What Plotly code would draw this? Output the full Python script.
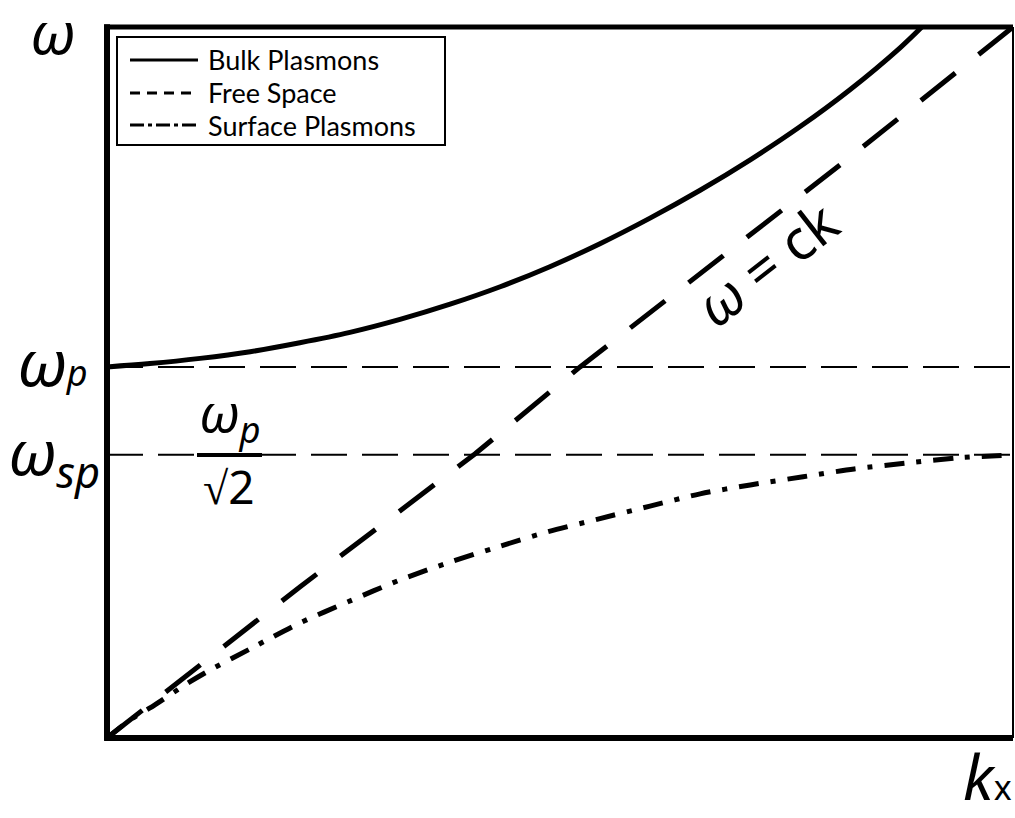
import plotly.graph_objects as go

# Dispersion curves: k in units of ω_p/c, ω in units of ω_p
k_bulk = [0.0, 0.091, 0.197, 0.303, 0.408, 0.514, 0.620, 0.726, 0.832, 0.937,
          1.043, 1.149, 1.255, 1.361, 1.466, 1.572, 1.678, 1.724]
w_bulk = [1.000, 1.009, 1.023, 1.041, 1.065, 1.093, 1.128, 1.169, 1.216, 1.270,
          1.332, 1.401, 1.476, 1.558, 1.647, 1.747, 1.860, 1.916]

# light line, drawn from the top corner down to the origin
k_light = [1.917, 1.557, 1.001, 0.779, 0.408, 0.0]
w_light = [1.916, 1.550, 1.000, 0.766, 0.407, 0.0]

k_surf = [0.0, 0.049, 0.091, 0.175, 0.218, 0.307, 0.408, 0.510, 0.620,
          0.726, 0.827, 0.931, 1.039, 1.149, 1.255, 1.361, 1.473, 1.581,
          1.693, 1.801, 1.917]
w_surf = [0.0, 0.049, 0.081, 0.151, 0.183, 0.243, 0.310, 0.367, 0.426,
          0.474, 0.515, 0.555, 0.590, 0.625, 0.658, 0.682, 0.704, 0.725,
          0.741, 0.755, 0.763]

omega_p = 1.0
omega_sp = 0.763
k_max = 1.917
w_max = 1.916

legend_names = ["Bulk Plasmons", "Free Space", "Surface Plasmons"]

# Canvas geometry (pixels)
W, H = 1015, 818
L, T, PW, PH = 107, 27, 906, 711


def paper(x, y):
    """Pixel position on the canvas -> paper coordinates."""
    return (x - L) / PW, (T + PH - y) / PH


LABEL_FONT = "Noto Sans"
LEGEND_FONT = "Lato"

fig = go.Figure()

fig.add_trace(go.Scatter(
    x=k_bulk, y=w_bulk, mode="lines", name=legend_names[0],
    line=dict(color="black", width=5, shape="spline", smoothing=1.0), showlegend=False))
fig.add_trace(go.Scatter(
    x=k_light, y=w_light, mode="lines", name=legend_names[1],
    line=dict(color="black", width=5, dash="44px,29.8px"), showlegend=False))
fig.add_trace(go.Scatter(
    x=k_surf, y=w_surf, mode="lines", name=legend_names[2],
    line=dict(color="black", width=5, dash="20px,12px,5px,12px", shape="spline",
              smoothing=0.8),
    showlegend=False))

shapes = []
# reference levels ω_p and ω_sp
for lvl in (omega_p, omega_sp):
    shapes.append(dict(type="line", xref="paper", yref="y", x0=0, x1=1, y0=lvl, y1=lvl,
                       line=dict(color="black", width=2, dash="36px,15px"), layer="below"))

# frame
shapes += [
    dict(type="line", xref="paper", yref="paper", x0=0, x1=0, y0=-0.004, y1=1.004,
         line=dict(color="black", width=6)),
    dict(type="line", xref="paper", yref="paper", x0=-0.003, x1=1, y0=0, y1=0,
         line=dict(color="black", width=6)),
    dict(type="line", xref="paper", yref="paper", x0=-0.003, x1=1, y0=1, y1=1,
         line=dict(color="black", width=5)),
    dict(type="line", xref="paper", yref="paper", x0=1, x1=1, y0=0, y1=1,
         line=dict(color="black", width=2)),
]

# fraction bar of ω_p/√2
fx0, fy = paper(197, 455)
fx1, _ = paper(262, 455)
shapes.append(dict(type="line", xref="paper", yref="paper", x0=fx0, x1=fx1, y0=fy, y1=fy,
                   line=dict(color="black", width=4)))

# legend box and samples
bx0, by1 = paper(117, 37)
bx1, by0 = paper(445, 145)
shapes.append(dict(type="rect", xref="paper", yref="paper", x0=bx0, x1=bx1, y0=by0, y1=by1,
                   line=dict(color="black", width=2), fillcolor="white"))
legend_dash = ["solid", "10px,7px", "14px,4px,4px,4px"]
row_y = [60, 93, 125]
annotations = []
for name, dash, ry in zip(legend_names, legend_dash, row_y):
    sx0, sy = paper(130, ry)
    sx1, _ = paper(198, ry)
    shapes.append(dict(type="line", xref="paper", yref="paper", x0=sx0, x1=sx1, y0=sy, y1=sy,
                       line=dict(color="black", width=3, dash=dash)))
    tx, ty = paper(206, ry)
    annotations.append(dict(x=tx, y=ty, xref="paper", yref="paper", text=name,
                            showarrow=False, xanchor="left", yanchor="middle",
                            font=dict(family=LEGEND_FONT, size=27, color="black")))


def label(text, x, y, size, xanchor="center", yanchor="middle", angle=0):
    px_, py_ = paper(x, y)
    annotations.append(dict(x=px_, y=py_, xref="paper", yref="paper", text=text,
                            showarrow=False, xanchor=xanchor, yanchor=yanchor,
                            textangle=angle,
                            font=dict(family=LABEL_FONT, size=size, color="black")))


label("<i>ω</i>", 52, 31, 58)
label("<i>ω</i><span style='font-size:36px'><i>p</i></span>", 90, 362, 64, xanchor="right")
label("<i>ω</i><sub><i>sp</i></sub>", 102, 455, 62, xanchor="right")
label("<i>ω</i><sub><i>p</i></sub>", 230, 415, 52)
label("√2", 229, 486, 46)
label("<i>k</i><span style='font-size:34px'>x</span>", 1014, 776, 62, xanchor="right")
label("<i>ω</i> = ck", 766, 263, 56, angle=-38)

fig.update_layout(
    width=W, height=H,
    margin=dict(l=L, r=W - L - PW, t=T, b=H - T - PH, pad=0),
    paper_bgcolor="white", plot_bgcolor="white",
    showlegend=False,
    xaxis=dict(range=[0, k_max], showgrid=False, zeroline=False, showticklabels=False,
               ticks="", showline=False, fixedrange=True),
    yaxis=dict(range=[0, w_max], showgrid=False, zeroline=False, showticklabels=False,
               ticks="", showline=False, fixedrange=True),
    shapes=shapes,
    annotations=annotations,
)

fig.write_html("out.html")
